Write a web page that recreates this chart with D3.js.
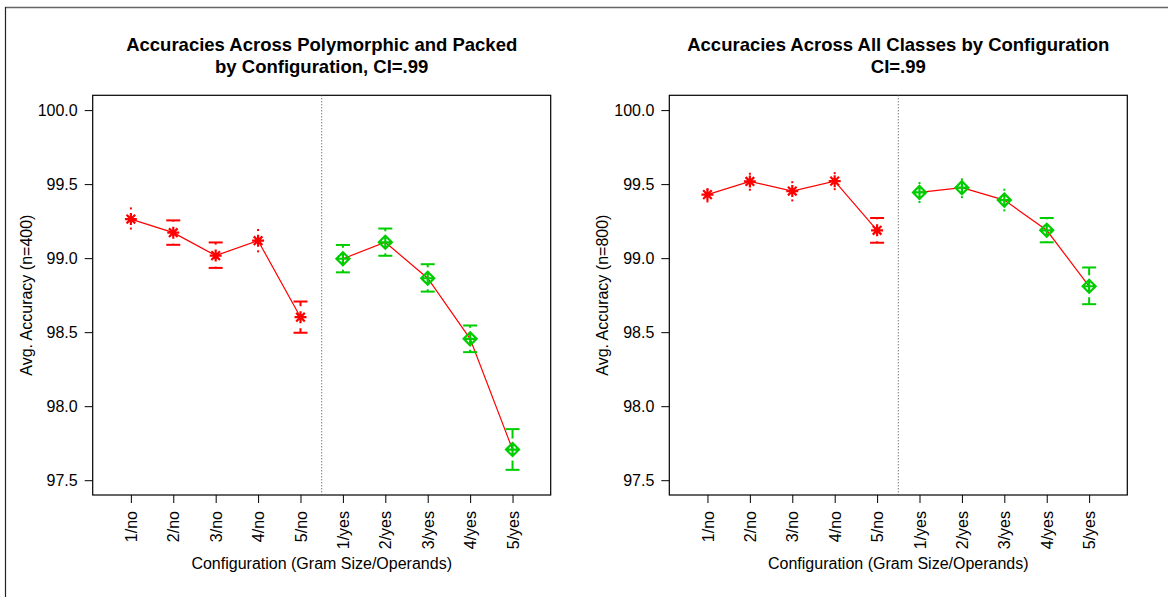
<!DOCTYPE html>
<html>
<head>
<meta charset="utf-8">
<script src="https://cdn.jsdelivr.net/npm/d3@7"></script>
<style>
    body { margin: 0; background: #fff; }
    svg text { font-family: "Liberation Sans", Arial, sans-serif; fill: #000; }
</style>
</head>
<body>
<svg id="chart" width="1168" height="597"></svg>
<script>
    // categories
    var configs = ["1/no", "2/no", "3/no", "4/no", "5/no", "1/yes", "2/yes", "3/yes", "4/yes", "5/yes"];
    var yTicks = [97.5, 98.0, 98.5, 99.0, 99.5, 100.0];

    // polymorphic and packed (n=400)
    var polyMean = [99.264, 99.172, 99.017, 99.118, 98.601, 98.996, 99.107, 98.864, 98.455, 97.707];
    var polyLo = [99.200, 99.090, 98.934, 99.046, 98.496, 98.904, 99.016, 98.774, 98.365, 97.570];
    var polyHi = [99.336, 99.255, 99.106, 99.190, 98.707, 99.089, 99.200, 98.959, 98.545, 97.845];

    // all classes (n=800)
    var allMean = [99.429, 99.518, 99.453, 99.520, 99.188, 99.444, 99.476, 99.392, 99.188, 98.810];
    var allLo = [99.383, 99.462, 99.390, 99.466, 99.104, 99.379, 99.412, 99.323, 99.107, 98.689];
    var allHi = [99.466, 99.570, 99.513, 99.574, 99.271, 99.507, 99.532, 99.462, 99.271, 98.937];

    var red = "#ff0000", green = "#00cd00";
    var svg = d3.select("#chart");

    // frame of the page
    svg.append("line").attr("x1", 5).attr("x2", 1168).attr("y1", 7.5).attr("y2", 7.5)
        .attr("stroke", "#666").attr("stroke-width", 1.5);
    svg.append("line").attr("x1", 5.5).attr("x2", 5.5).attr("y1", 7).attr("y2", 597)
        .attr("stroke", "#222").attr("stroke-width", 1.2);

    var drawPanel = function(left, titleLines, yTitle, mean, lo, hi) {
        var top = 95.3, bottom = 495, width = 458;
        var x = d3.scaleLinear().domain([0.1, 10.9]).range([left, left + width]);
        var y = d3.scaleLinear().domain([97.4, 100.1]).range([bottom, top]);
        var g = svg.append("g");
        var cx = left + width / 2;

        g.selectAll(".title").data(titleLines).enter().append("text")
            .attr("x", cx)
            .attr("y", function(d, i) { return 51 + i * 22; })
            .attr("text-anchor", "middle")
            .attr("font-size", "18.5px")
            .attr("font-weight", "bold")
            .text(function(d) { return d; });

        // y axis
        var yAxis = d3.axisLeft(y).tickValues(yTicks).tickSize(8).tickPadding(7)
            .tickFormat(d3.format(".1f"));
        var ya = g.append("g").attr("transform", "translate(" + left + ",0)").call(yAxis);
        ya.select(".domain").remove();
        ya.selectAll("text").attr("font-size", "16px").attr("font-family", null);
        ya.selectAll("line").attr("stroke", "#000");

        // x axis
        var xAxis = d3.axisBottom(x).tickValues(d3.range(1, 11)).tickSize(8).tickPadding(8)
            .tickFormat(function(d) { return configs[d - 1]; });
        var xa = g.append("g").attr("transform", "translate(0," + bottom + ")").call(xAxis);
        xa.select(".domain").remove();
        xa.selectAll("line").attr("stroke", "#000");
        xa.selectAll("text")
            .attr("font-size", "16px").attr("font-family", null)
            .attr("transform", "rotate(-90)")
            .attr("text-anchor", "end")
            .attr("x", -16).attr("y", 0).attr("dy", "0.35em");

        g.append("text")
            .attr("x", cx).attr("y", 569)
            .attr("text-anchor", "middle").attr("font-size", "16px")
            .text("Configuration (Gram Size/Operands)");
        g.append("text")
            .attr("transform", "translate(" + (left - 61) + "," + ((top + bottom) / 2) + ") rotate(-90)")
            .attr("text-anchor", "middle").attr("font-size", "16px")
            .text(yTitle);

        // plot box
        g.append("rect").attr("x", left).attr("y", top).attr("width", width).attr("height", bottom - top)
            .attr("fill", "none").attr("stroke", "#000").attr("stroke-width", 1.2);

        // separator between no / yes
        g.append("line").attr("x1", x(5.5)).attr("x2", x(5.5)).attr("y1", top).attr("y2", bottom)
            .attr("stroke", "#444").attr("stroke-width", 1).attr("stroke-dasharray", "1,2");

        var pts = configs.map(function(c, i) {
            return { i: i + 1, m: mean[i], lo: lo[i], hi: hi[i], yes: i >= 5 };
        });

        // connecting lines, one per group
        var line = d3.line().x(function(d) { return x(d.i); }).y(function(d) { return y(d.m); });
        [pts.slice(0, 5), pts.slice(5)].forEach(function(grp) {
            g.append("path").attr("d", line(grp)).attr("fill", "none")
                .attr("stroke", red).attr("stroke-width", 1.2);
        });

        // error bars with a gap round the point
        var gap = 11, cap = 7;
        pts.forEach(function(d) {
            var col = d.yes ? green : red;
            var px = x(d.i), py = y(d.m);
            [y(d.hi), y(d.lo)].forEach(function(ey) {
                var dist = Math.abs(ey - py), dir = ey < py ? -1 : 1;
                if (dist > gap) {
                    g.append("line").attr("x1", px).attr("x2", px)
                        .attr("y1", py + dir * gap).attr("y2", ey)
                        .attr("stroke", col).attr("stroke-width", 2);
                    g.append("line").attr("x1", px - cap).attr("x2", px + cap)
                        .attr("y1", ey).attr("y2", ey)
                        .attr("stroke", col).attr("stroke-width", 2);
                } else {
                    g.append("rect").attr("x", px - 1).attr("y", ey - 1)
                        .attr("width", 2).attr("height", 2).attr("fill", col);
                }
            });
        });

        // markers: asterisk for "no", diamond-plus for "yes"
        var r = 6;
        pts.forEach(function(d) {
            var px = x(d.i), py = y(d.m);
            var m = g.append("g").attr("transform", "translate(" + px + "," + py + ")");
            if (!d.yes) {
                var k = r * 0.72;
                var p = "M" + (-r) + ",0L" + r + ",0M0," + (-r) + "L0," + r +
                    "M" + (-k) + "," + (-k) + "L" + k + "," + k + "M" + (-k) + "," + k + "L" + k + "," + (-k);
                m.append("path").attr("d", p).attr("stroke", red).attr("stroke-width", 2.2).attr("fill", "none");
            } else {
                var s = 6.5;
                m.append("path")
                    .attr("d", "M0," + (-s) + "L" + s + ",0L0," + s + "L" + (-s) + ",0Z" +
                        "M" + (-s) + ",0L" + s + ",0M0," + (-s) + "L0," + s)
                    .attr("stroke", green).attr("stroke-width", 2.2).attr("fill", "none");
            }
        });
    };

    drawPanel(92.7, ["Accuracies Across Polymorphic and Packed", "by Configuration, CI=.99"],
        "Avg. Accuracy (n=400)", polyMean, polyLo, polyHi);
    drawPanel(669.3, ["Accuracies Across All Classes by Configuration", "CI=.99"],
        "Avg. Accuracy (n=800)", allMean, allLo, allHi);
</script>
</body>
</html>
